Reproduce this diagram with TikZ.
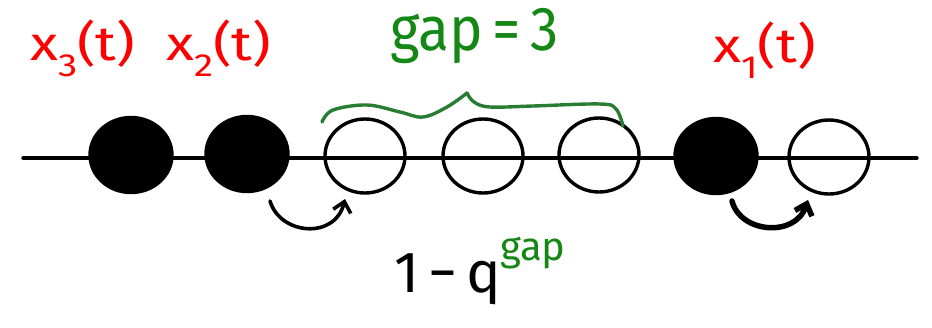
\documentclass[tikz,border=0pt]{standalone}
\usepackage{fontspec}
\setmainfont{Fira Sans}
\usetikzlibrary{shapes.geometric,arrows.meta}
\definecolor{myred}{RGB}{255,0,0}
\definecolor{mygreen}{RGB}{20,135,20}
\definecolor{bracegreen}{RGB}{40,125,50}
\tikzset{
  fullball/.style={ellipse, draw, fill=black, line width=3.4pt, minimum width=82pt, minimum height=75pt, inner sep=0pt},
  emptyball/.style={ellipse, draw, line width=3.4pt, minimum width=80pt, minimum height=74pt, inner sep=0pt},
  redlab/.style={text=myred, inner sep=0pt, font=\fontsize{48}{52}\selectfont},
  greenlab/.style={text=mygreen, inner sep=0pt, font=\fontsize{54}{58}\selectfont},
  hop/.style={line width=#1, line cap=round, -{Straight Barb[length=10pt,width=18pt,line width=#1]}},
}
\newcommand{\sublab}[2]{\scalebox{1.2}[1]{x\raisebox{-0.35em}{\fontsize{32}{34}\selectfont #1}(t)}}
\begin{document}
\begin{tikzpicture}[x=1pt,y=-1pt]
\useasboundingbox (0,0) rectangle (932,327);
% line
\coordinate (L) at (23,158);
\coordinate (R) at (917,158);
\draw[line width=3.4pt, line cap=round] (L) -- (R);
% balls
\node[fullball] (c1) at (131,155) {};
\node[fullball] (c2) at (247,154) {};
\node[emptyball] (c3) at (365,156) {};
\node[emptyball] (c4) at (483,156) {};
\node[emptyball] (c5) at (599,155) {};
\node[fullball] (c6) at (716,156) {};
\node[emptyball] (c7) at (829,157) {};
% labels
\node[redlab, anchor=base west] (x3) at (30,60) {\sublab{3}{}};
\node[redlab, anchor=base west] (x2) at (166,60) {\sublab{2}{}};
\node[redlab, anchor=base west] (x1) at (713,62) {\sublab{1}{}};
\node[greenlab, anchor=base west] (gap) at (390,50) {\scalebox{1.05}[1.15]{gap\,=\,3}};
% brace
\draw[bracegreen, line width=3.4pt, line cap=round, line join=round]
  plot[smooth, tension=0.6] coordinates {(322,122) (333,110) (367,105) (400,112) (423,117) (447,107) (467,93)};
\draw[bracegreen, line width=3.4pt, line cap=round, line join=round]
  plot[smooth, tension=0.6] coordinates {(467,93) (474,102) (490,107) (533,106) (600,104) (616,109) (623,126)};
% hops
\coordinate (h1s) at (270,201);
\coordinate (h1e) at (345,199);
\coordinate (h2s) at (732,201);
\coordinate (h2e) at (808,200);
\draw[hop=3.6pt] (h1s) .. controls (280,235) and (335,240) .. (h1e);
\draw[hop=5.5pt] (h2s) .. controls (740,233) and (795,238) .. (h2e);
% rate
\node[anchor=base west, inner sep=0pt, font=\fontsize{58}{62}\selectfont] (rate) at (394,292)
  {1\kern9pt−\kern9pt q\kern-1pt\raisebox{0.55em}{\textcolor{mygreen}{\fontsize{40}{44}\selectfont gap}}};
\end{tikzpicture}
\end{document}
